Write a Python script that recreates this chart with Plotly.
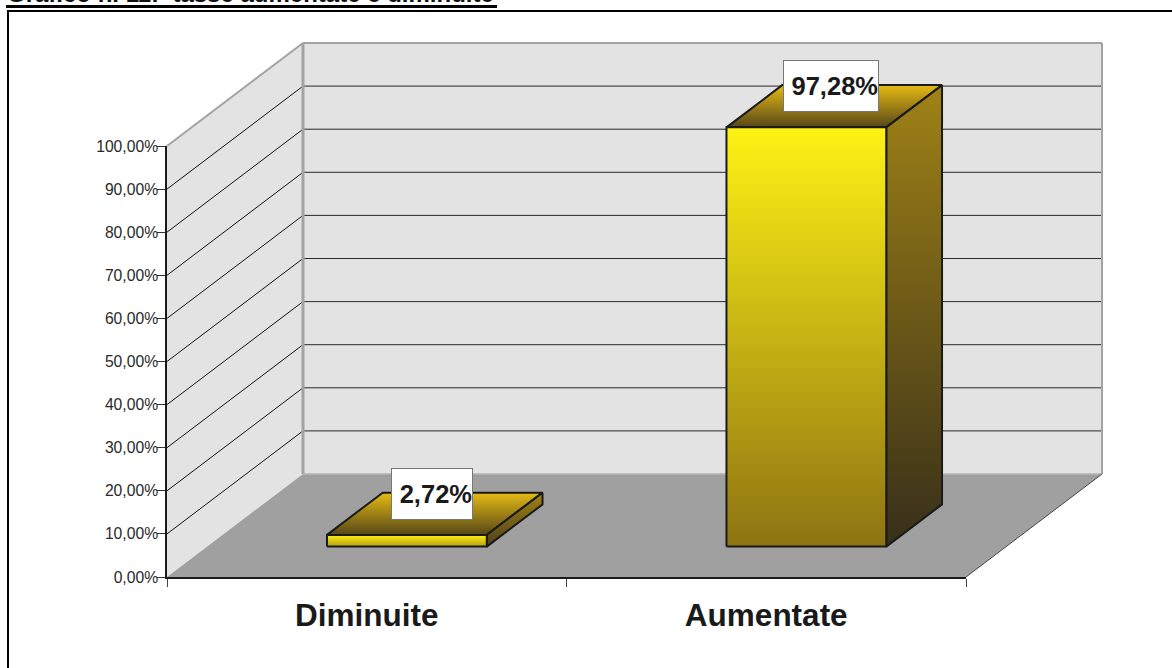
import plotly.graph_objects as go

# Chart data
categories = ["Diminuite", "Aumentate"]
values = [2.72, 97.28]
value_ticks = [0, 10, 20, 30, 40, 50, 60, 70, 80, 90, 100]
title_text = "Grafico n. 11:&nbsp; tasse aumentate e diminuite"

# Page and projection geometry (pixels)
W, H = 1172, 668
LEFT, RIGHT, BASE, TOP = 167, 966, 577, 146
CAT_PX = (RIGHT - LEFT) / 2
VAL_PX = (BASE - TOP) / 100
DEPTH_DX, DEPTH_DY = 136 / CAT_PX, 103 / VAL_PX   # full depth expressed in axis units
BAR_HALF = 0.2
BAR_NEAR, BAR_FAR = 0.295, 0.705

INK = "#1a1a1a"
WALL = "#e3e3e3"
FLOOR = "#a0a0a0"
EDGE = "#a3a3a3"
GRID = "#2a2a2a"


def fmt(v):
    return f"{v:.2f}".replace(".", ",") + "%"


def project(cat, val, depth):
    """Oblique projection of (category, value, depth) onto the page axes."""
    return cat + depth * DEPTH_DX, val + depth * DEPTH_DY


def poly(points, **kw):
    xs, ys = zip(*[project(*p) for p in points])
    return go.Scatter(x=list(xs) + [xs[0]], y=list(ys) + [ys[0]], mode="lines",
                      fill="toself", hoverinfo="skip", showlegend=False, **kw)


def seg(a, b, color, width):
    xs, ys = zip(project(*a), project(*b))
    return go.Scatter(x=xs, y=ys, mode="lines", line=dict(color=color, width=width),
                      hoverinfo="skip", showlegend=False)


def shade(points, top_color, bottom_color, line):
    ys = [project(*p)[1] for p in points]
    return poly(points, line=line, fillgradient=dict(
        type="vertical",
        start=min(ys), stop=max(ys),
        colorscale=[[0, bottom_color], [1, top_color]]))


fig = go.Figure()

# Walls and floor
fig.add_trace(poly([(0, 0, 0), (0, 0, 1), (0, 100, 1), (0, 100, 0)],
                   fillcolor=WALL, line=dict(width=0)))
fig.add_trace(poly([(0, 0, 1), (2, 0, 1), (2, 100, 1), (0, 100, 1)],
                   fillcolor=WALL, line=dict(width=0)))
fig.add_trace(poly([(0, 0, 0), (2, 0, 0), (2, 0, 1), (0, 0, 1)],
                   fillcolor=FLOOR, line=dict(width=0)))

# Gridlines wrapping from the side wall onto the back wall
for v in value_ticks[1:-1]:
    fig.add_trace(seg((0, v, 0), (0, v, 1), "#111111", 1))
    fig.add_trace(seg((0, v, 1), (2, v, 1), GRID, 1))

# Wall outlines
fig.add_trace(seg((0, 100, 0), (0, 100, 1), EDGE, 2))
fig.add_trace(seg((0, 100, 1), (2, 100, 1), EDGE, 2))
fig.add_trace(seg((0, 0, 1), (0, 100, 1), EDGE, 3))
fig.add_trace(seg((2, 0, 1), (2, 100, 1), EDGE, 2))
fig.add_trace(seg((0, 0, 1), (2, 0, 1), "#b4b4b4", 1.5))
fig.add_trace(seg((2, 0, 0), (2, 0, 1), "#444444", 1))

# Bars: front, top and side faces, each with its own vertical shading
OUT = dict(color=INK, width=2)
for i, v in enumerate(values):
    l, r = i + 0.5 - BAR_HALF, i + 0.5 + BAR_HALF
    n, f = BAR_NEAR, BAR_FAR
    fig.add_trace(shade([(l, v, n), (r, v, n), (r, v, f), (l, v, f)],
                        "#e6bb14", "#574717", OUT))
    fig.add_trace(shade([(r, 0, n), (r, 0, f), (r, v, f), (r, v, n)],
                        "#a08216", "#372f19" if v > 50 else "#4f4118", OUT))
    fig.add_trace(shade([(l, 0, n), (r, 0, n), (r, v, n), (l, v, n)],
                        "#fff214", "#8e7412" if v > 50 else "#b49c12", OUT))

# Value labels sit above the centre of each bar's top face
annotations = []
for i, v in enumerate(values):
    cx, cy = project(i + 0.5, v, (BAR_NEAR + BAR_FAR) / 2)
    annotations.append(dict(
        x=cx, y=cy, xref="x", yref="y", xanchor="center", yanchor="middle",
        text=f"<b>{fmt(v)}</b>", showarrow=False,
        xshift=-3, yshift=20,
        width=94 if v > 50 else 80, height=50, align="right", valign="middle", borderpad=0,
        font=dict(family="Liberation Sans", size=25.5, color=INK),
        bgcolor="white", bordercolor="#777777", borderwidth=1))

# Heading, cropped by the top of the page
annotations.append(dict(
    x=6 / W, y=(H - 8) / H, xref="paper", yref="paper", xanchor="left", yanchor="bottom",
    text=f"<b>{title_text}</b>", showarrow=False, borderpad=0,
    font=dict(family="Liberation Sans", size=24, color="#111111")))

shapes = [
    dict(type="line", xref="paper", yref="paper", x0=6 / W, x1=497 / W,
         y0=(H - 6.5) / H, y1=(H - 6.5) / H, line=dict(color="black", width=3)),
    dict(type="line", xref="paper", yref="paper", x0=7 / W, x1=1,
         y0=(H - 11) / H, y1=(H - 11) / H, line=dict(color="black", width=2)),
    dict(type="line", xref="paper", yref="paper", x0=8 / W, x1=8 / W,
         y0=0, y1=(H - 10) / H, line=dict(color="black", width=2)),
]

fig.update_layout(
    width=W, height=H, margin=dict(l=0, r=0, t=0, b=0, pad=0, autoexpand=False),
    paper_bgcolor="white", plot_bgcolor="rgba(0,0,0,0)", showlegend=False,
    annotations=annotations, shapes=shapes,
    # Full-page axes carry the projected scene
    xaxis=dict(visible=False, domain=[0, 1], fixedrange=True,
               range=[-LEFT / CAT_PX, (W - LEFT) / CAT_PX]),
    yaxis=dict(visible=False, domain=[0, 1], fixedrange=True,
               range=[(BASE - H) / VAL_PX, BASE / VAL_PX]),
    # Front-plane axes carry the tick marks and labels
    xaxis2=dict(domain=[LEFT / W, RIGHT / W], anchor="y2", range=[0, 2], showgrid=False,
                zeroline=False, showline=True, linecolor=INK, linewidth=1.5,
                tickmode="array", tickvals=[0.5, 1.5],
                ticktext=[f"<b>{c}</b>" for c in categories], ticks="", ticklabelstandoff=9,
                tickfont=dict(family="Liberation Sans", size=31.5, color=INK),
                minor=dict(tickmode="array", tickvals=[0, 1, 2], ticks="outside", ticklen=8,
                           tickcolor="#444444", tickwidth=1, showgrid=False)),
    yaxis2=dict(domain=[(H - BASE) / H, (H - TOP) / H], anchor="x2", range=[0, 100],
                showgrid=False, zeroline=False, showline=True, linecolor=INK, linewidth=1.5,
                tickmode="array", tickvals=value_ticks, ticktext=[fmt(v) for v in value_ticks],
                ticks="outside", ticklen=8, tickcolor="#333333", tickwidth=1,
                ticklabelstandoff=-4,
                tickfont=dict(family="Liberation Sans", size=15.7, color="#2a2a2a")),
)

# Empty trace that brings the front-plane axes into the figure
fig.add_trace(go.Scatter(x=[0, 2], y=[0, 100], xaxis="x2", yaxis="y2", mode="lines",
                         line=dict(width=0), hoverinfo="skip", showlegend=False))

fig.write_html("out.html")
